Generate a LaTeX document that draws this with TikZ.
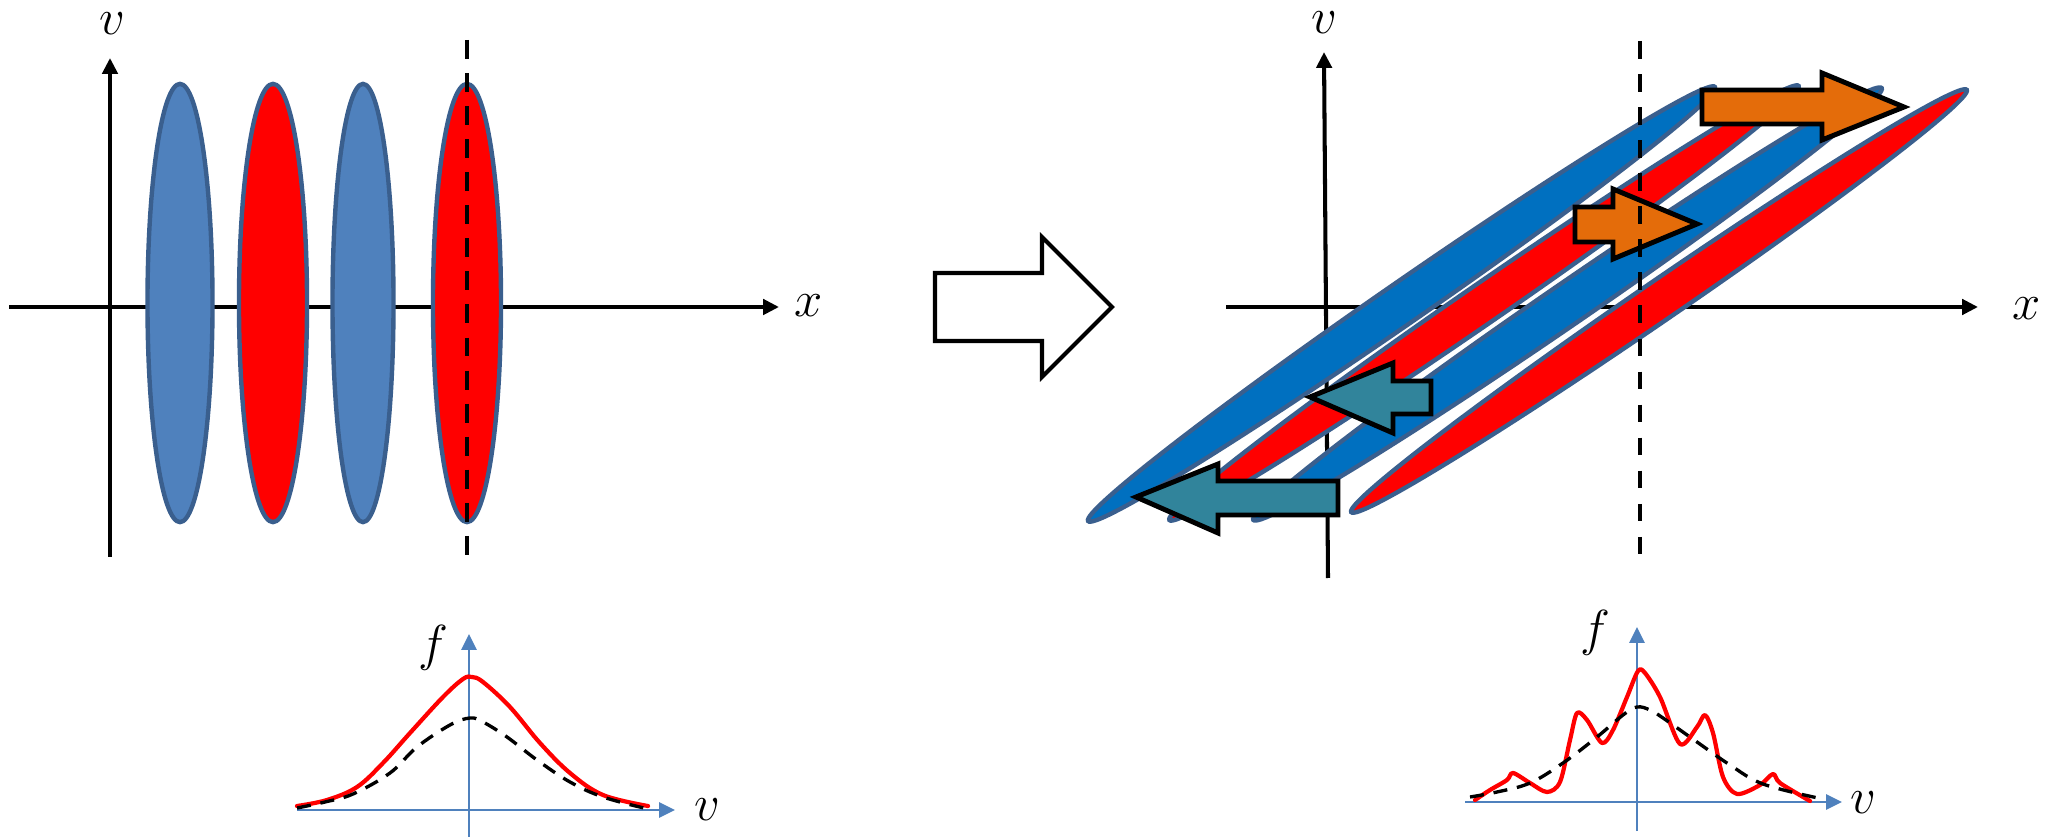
\documentclass[tikz,border=0pt]{standalone}
\usetikzlibrary{arrows.meta}
\definecolor{lblue}{HTML}{4F81BD}
\definecolor{dblue}{HTML}{0070C0}
\definecolor{edgeblue}{HTML}{3A5F8E}
\definecolor{aorange}{HTML}{E46C0A}
\definecolor{ateal}{HTML}{31849B}
\begin{document}
\begin{tikzpicture}[x=0.01cm,y=-0.01cm,
  axis/.style={line width=1.15pt, -{Triangle[length=4.5pt,width=4.3pt]}},
  guide/.style={line width=1.25pt, dash pattern=on 5.4pt off 4pt},
  guidethin/.style={line width=1pt, dash pattern=on 5pt off 4.4pt},
  lbl/.style={font=\fontsize{14}{16}\selectfont, inner sep=0pt},
  blob/.style={line width=1.25pt, draw=edgeblue},
  block/.style={line width=1.4pt, draw=black, line join=miter},
  hollow/.style={line width=1.15pt, draw=black, fill=white, line join=miter},
  faxis/.style={draw=lblue, line width=0.6pt, -{Triangle[length=4.5pt,width=4.3pt]}, color=lblue},
  dist/.style={red, line width=1.2pt, line join=round, line cap=round},
  refdist/.style={black, line width=0.95pt, dash pattern=on 4pt off 2.8pt},
]
\useasboundingbox (0,0) rectangle (2045,837);

% ---------- left phase space ----------
\coordinate (Lx0) at (9,307);   \coordinate (Lx1) at (779,307);
\coordinate (Lv0) at (110,557); \coordinate (Lv1) at (110,58);
\draw[axis] (Lx0) -- (Lx1);
\draw[axis] (Lv0) -- (Lv1);
\draw[blob, fill=lblue] (180,303) ellipse [x radius=0.325cm, y radius=2.19cm];
\draw[blob, fill=red]   (273,303) ellipse [x radius=0.34cm,  y radius=2.19cm];
\draw[blob, fill=lblue] (363,303) ellipse [x radius=0.305cm, y radius=2.19cm];
\draw[blob, fill=red]   (467,303) ellipse [x radius=0.34cm,  y radius=2.19cm];
\coordinate (Ld0) at (467,40); \coordinate (Ld1) at (467,557);
\draw[guide] (Ld0) -- (Ld1);
\node[lbl] (Lvl) at (112,24) {$v$};
\node[lbl] (Lxl) at (809,306) {$x$};

% ---------- transition arrow ----------
\draw[hollow] (935,273) -- (1042,273) -- (1042,237) -- (1112,307) -- (1042,377) -- (1042,341) -- (935,341) -- cycle;

% ---------- right phase space ----------
\coordinate (Rx0) at (1226,307);  \coordinate (Rx1) at (1978,307);
\coordinate (Rv0) at (1328,578);  \coordinate (Rv1) at (1324,52);
\draw[axis] (Rx0) -- (Rx1);
\draw[axis] (Rv0) -- (Rv1);
\draw[blob, fill=dblue, rotate around={34.7:(1401.5,304)}] (1401.5,304) ellipse [x radius=3.81cm, y radius=0.205cm];
\draw[blob, fill=red,   rotate around={34.6:(1484,303)}]   (1484,303)   ellipse [x radius=3.82cm, y radius=0.195cm];
\draw[blob, fill=dblue, rotate around={34.5:(1567.5,304)}] (1567.5,304) ellipse [x radius=3.81cm, y radius=0.205cm];
\draw[blob, fill=red,   rotate around={34.45:(1659,301)}]  (1659,301)   ellipse [x radius=3.73cm, y radius=0.195cm];

\draw[block, fill=aorange] (1702,90) -- (1822,90) -- (1822,73) -- (1904,107) -- (1822,140) -- (1822,124) -- (1702,124) -- cycle;
\draw[block, fill=aorange] (1575,207) -- (1613,207) -- (1613,189) -- (1697,224) -- (1613,259) -- (1613,242) -- (1575,242) -- cycle;
\draw[block, fill=ateal] (1310,397) -- (1393,363) -- (1393,381) -- (1431,381) -- (1431,414) -- (1393,414) -- (1393,433) -- cycle;
\draw[block, fill=ateal] (1136,497) -- (1218,464) -- (1218,481) -- (1338,481) -- (1338,515) -- (1218,515) -- (1218,533) -- cycle;

\coordinate (Rd0) at (1640,41); \coordinate (Rd1) at (1640,559);
\draw[guidethin] (Rd0) -- (Rd1);
\node[lbl] (Rvl) at (1324,23) {$v$};
\node[lbl] (Rxl) at (2027,309) {$x$};

% ---------- left distribution ----------
\coordinate (Bf0) at (469,837); \coordinate (Bf1) at (469,634);
\coordinate (Bv0) at (297,810); \coordinate (Bv1) at (675,810);
\draw[faxis] (Bf0) -- (Bf1);
\draw[faxis] (Bv0) -- (Bv1);
\draw[dist] plot[smooth, tension=0.6] coordinates {(297,806) (327,800) (357,787) (383,763) (410,733) (443,697) (463,679) (472,677) (483,682) (510,707) (540,743) (570,773) (603,795) (648,806)};
\draw[refdist] plot[smooth, tension=0.6] coordinates {(297,808) (325,802) (353,794) (390,773) (417,747) (450,725) (470,718) (483,722) (507,737) (537,760) (570,782) (603,797) (648,809)};
\node[lbl] (Bfl) at (433,648) {$f$};
\node[lbl] (Bvl) at (707,810) {$v$};

% ---------- right distribution ----------
\coordinate (Cf0) at (1637,831); \coordinate (Cf1) at (1637,627);
\coordinate (Cv0) at (1465,802); \coordinate (Cv1) at (1842,802);
\draw[faxis] (Cf0) -- (Cf1);
\draw[faxis] (Cv0) -- (Cv1);
\draw[dist] plot[smooth, tension=0.5] coordinates {(1475,800) (1490,790) (1507,780) (1513,773) (1530,783) (1547,792) (1560,782) (1570,740) (1577,713) (1587,720) (1602,743) (1613,730) (1627,697) (1638,671) (1645,673) (1660,697) (1680,744) (1697,727) (1705,715) (1713,733) (1723,777) (1737,794) (1760,785) (1773,774) (1780,783) (1810,801)};
\draw[refdist] plot[smooth, tension=0.6] coordinates {(1470,797) (1497,792) (1530,783) (1563,763) (1597,737) (1623,715) (1637,707) (1650,710) (1663,718) (1697,742) (1730,765) (1763,784) (1818,798)};
\node[lbl] (Cfl) at (1595,633) {$f$};
\node[lbl] (Cvl) at (1863,803) {$v$};
\end{tikzpicture}
\end{document}
